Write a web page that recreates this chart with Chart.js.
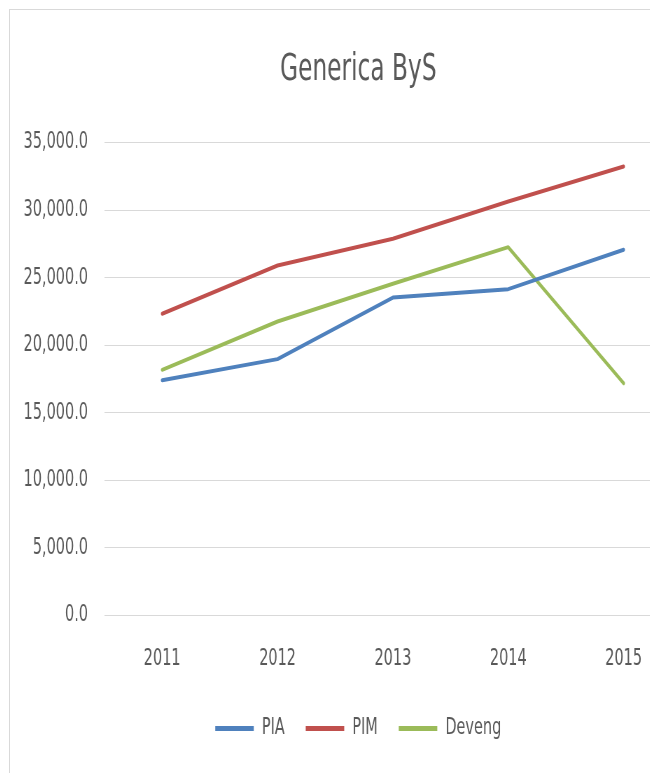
<!DOCTYPE html>
<html>
<head>
<meta charset="utf-8">
<script src="https://cdn.jsdelivr.net/npm/chart.js@4/dist/chart.umd.min.js"></script>
<style>
  html, body { margin: 0; padding: 0; background: #fff; overflow: hidden; width: 650px; height: 773px; }
  #box { position: absolute; left: 9px; top: 9px; border: 1px solid #d9d9d9; width: 1000px; height: 800px; }
  /* the source picture is squeezed sideways, so the canvas is too */
  #chart { display: block; transform: scaleX(0.7); transform-origin: 0 0; }
</style>
</head>
<body>
<div id="box"><canvas id="chart" width="1000" height="763"></canvas></div>
<script>
const years = ['2011', '2012', '2013', '2014', '2015'];
const pia = [17415, 18970, 23530, 24150, 27060];
const pim = [22325, 25900, 27874, 30635, 33225];
const deveng = [18180, 21755, 24545, 27255, 17190];

const textColor = '#595959';
const fontFamily = "'DejaVu Sans Condensed', 'DejaVu Sans', sans-serif";

const line = (label, data, color) => ({
    label: label,
    data: data,
    borderColor: color,
    backgroundColor: color,
    borderWidth: 4,
    borderCapStyle: 'round',
    borderJoinStyle: 'round',
    pointRadius: 0,
    tension: 0
});

// title and legend sit a little right of the plot's centre in the original
const nudgeBoxes = {
    id: 'nudgeBoxes',
    afterLayout(chart) {
        [chart.titleBlock, chart.legend].forEach(b => {
            if (!b) return;
            b.left += 18;
            b.right += 18;
        });
    }
};

const ctx = document.getElementById('chart').getContext('2d');
new Chart(ctx, {
    type: 'line',
    data: {
        labels: years,
        datasets: [
            line('PIA', pia, '#4F81BD'),
            line('PIM', pim, '#C0504D'),
            line('Deveng', deveng, '#9BBB59')
        ]
    },
    options: {
        responsive: false,
        animation: false,
        layout: { padding: { left: 0, right: 41, top: 0, bottom: 23 } },
        plugins: {
            title: {
                display: true,
                text: 'Generica ByS',
                color: textColor,
                font: { family: fontFamily, size: 37, weight: 'normal', lineHeight: 1.2 },
                padding: { top: 38.5, bottom: 49.6 }
            },
            legend: {
                position: 'bottom',
                labels: {
                    color: textColor,
                    font: { family: fontFamily, size: 23 },
                    boxWidth: 55,
                    boxHeight: 5,
                    padding: 30,
                    generateLabels: (chart) => Chart.defaults.plugins.legend.labels.generateLabels(chart)
                        .map(l => Object.assign(l, { lineWidth: 0 }))
                }
            },
            tooltip: { enabled: false }
        },
        scales: {
            x: {
                offset: true,
                grid: { display: false, drawTicks: false },
                border: { display: false },
                ticks: { color: textColor, font: { family: fontFamily, size: 23 }, padding: 29.4 },
                afterFit: (scale) => { scale.height = 71.5; }
            },
            y: {
                min: 0,
                max: 35000,
                grid: { color: '#d9d9d9', lineWidth: 1, drawTicks: false },
                border: { display: false },
                ticks: {
                    stepSize: 5000,
                    color: textColor,
                    font: { family: fontFamily, size: 23 },
                    padding: 23.6,
                    callback: (v) => v.toLocaleString('en-US', { minimumFractionDigits: 1, maximumFractionDigits: 1 })
                },
                afterFit: (scale) => { scale.width = 135; }
            }
        }
    },
    plugins: [nudgeBoxes]
});
</script>
</body>
</html>
